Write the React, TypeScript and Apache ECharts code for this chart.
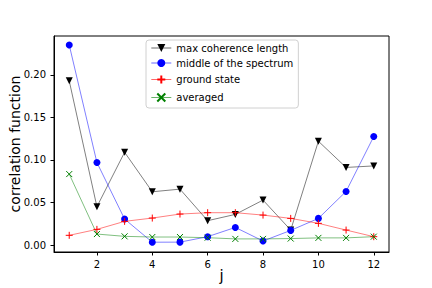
import React, { useEffect, useRef } from "react";
import * as echarts from "echarts";

const j = [1, 2, 3, 4, 5, 6, 7, 8, 9, 10, 11, 12];
const maxCoherence = [0.193, 0.045, 0.109, 0.0626, 0.0657, 0.0286, 0.036, 0.0528, 0.0176, 0.122, 0.0912, 0.093];
const middleSpectrum = [0.2352, 0.097, 0.0305, 0.0033, 0.0034, 0.0098, 0.0207, 0.0047, 0.0172, 0.0313, 0.063, 0.1276];
const groundState = [0.0114, 0.0184, 0.0278, 0.0317, 0.0364, 0.038, 0.038, 0.0352, 0.0313, 0.0255, 0.0176, 0.0098];
const averaged = [0.0834, 0.0129, 0.0102, 0.0094, 0.0094, 0.0086, 0.0072, 0.0072, 0.0076, 0.0084, 0.0084, 0.0098];
const xTicks = [2, 4, 6, 8, 10, 12];
const yTicks = [0, 0.05, 0.1, 0.15, 0.2];

const FONT = "DejaVu Sans";

export default function App() {
  const ref = useRef<HTMLDivElement>(null);
  useEffect(() => {
    const chart = echarts.init(ref.current!, null, { renderer: "svg" });
    const mk = (name: string, data: number[], color: string, symbol: string, size: number, extra: any = {}) => ({
      name,
      type: "line",
      data: j.map((x, i) => [x, data[i]]),
      symbol,
      symbolSize: size,
      showSymbol: true,
      lineStyle: { color, width: 0.5 },
      itemStyle: { color, borderColor: color, borderWidth: 0 },
      ...extra,
    });
    chart.setOption({
      animation: false,
      textStyle: { fontFamily: FONT },
      grid: {
        left: 54,
        right: 43,
        top: 36,
        bottom: 36,
        show: true,
        borderColor: "#000",
        borderWidth: 1,
        containLabel: false,
        outerBoundsMode: "none",
      },
      legend: {
        orient: "vertical",
        left: 146,
        top: 40,
        padding: [3, 5, 4, 5],
        itemWidth: 20,
        itemHeight: 10,
        itemGap: 5,
        backgroundColor: "#fff",
        borderColor: "#d0d0d0",
        borderWidth: 1,
        borderRadius: 3,
        lineStyle: { width: 0.6 },
        textStyle: { fontFamily: FONT, fontSize: 10, color: "#000" },
        data: ["max coherence length", "middle of the spectrum", "ground state", "averaged"],
      },
      xAxis: {
        type: "value",
        min: 0.45,
        max: 12.55,
        name: "j",
        nameLocation: "middle",
        nameGap: 16,
        nameMoveOverlap: false,
        nameTextStyle: { fontFamily: FONT, fontSize: 15, color: "#000" },
        axisLine: { show: true, onZero: false, lineStyle: { color: "#000" } },
        axisTick: { show: true, length: 3.5, customValues: xTicks, lineStyle: { color: "#000" } },
        axisLabel: { customValues: xTicks, margin: 7, fontSize: 10, color: "#000", fontFamily: FONT },
        splitLine: { show: false },
      },
      yAxis: {
        type: "value",
        min: -0.0082,
        max: 0.2457,
        name: "correlation function",
        nameLocation: "middle",
        nameGap: 32,
        nameMoveOverlap: false,
        nameTextStyle: { fontFamily: FONT, fontSize: 14, color: "#000" },
        axisLine: { show: true, onZero: false, lineStyle: { color: "#000" } },
        axisTick: { show: true, length: 3.5, customValues: yTicks, lineStyle: { color: "#000" } },
        axisLabel: {
          customValues: yTicks,
          margin: 8,
          fontSize: 10,
          color: "#000",
          fontFamily: FONT,
          formatter: (v: number) => v.toFixed(2),
        },
        splitLine: { show: false },
      },
      series: [
        mk("max coherence length", maxCoherence, "#000000", "triangle", 7, { symbolRotate: 180 }),
        mk("middle of the spectrum", middleSpectrum, "#0000ff", "circle", 7),
        mk("ground state", groundState, "#ff0000", "path://M5,0 L5,10 M0,5 L10,5", 7, {
          itemStyle: { color: "none", borderColor: "#ff0000", borderWidth: 1 },
        }),
        mk("averaged", averaged, "#008000", "path://M0,0 L10,10 M0,10 L10,0", 6, {
          itemStyle: { color: "none", borderColor: "#008000", borderWidth: 1 },
        }),
      ],
    });
    return () => chart.dispose();
  }, []);
  return <div ref={ref} style={{ width: 432, height: 288, position: "absolute", left: 0, top: 0 }} />;
}
